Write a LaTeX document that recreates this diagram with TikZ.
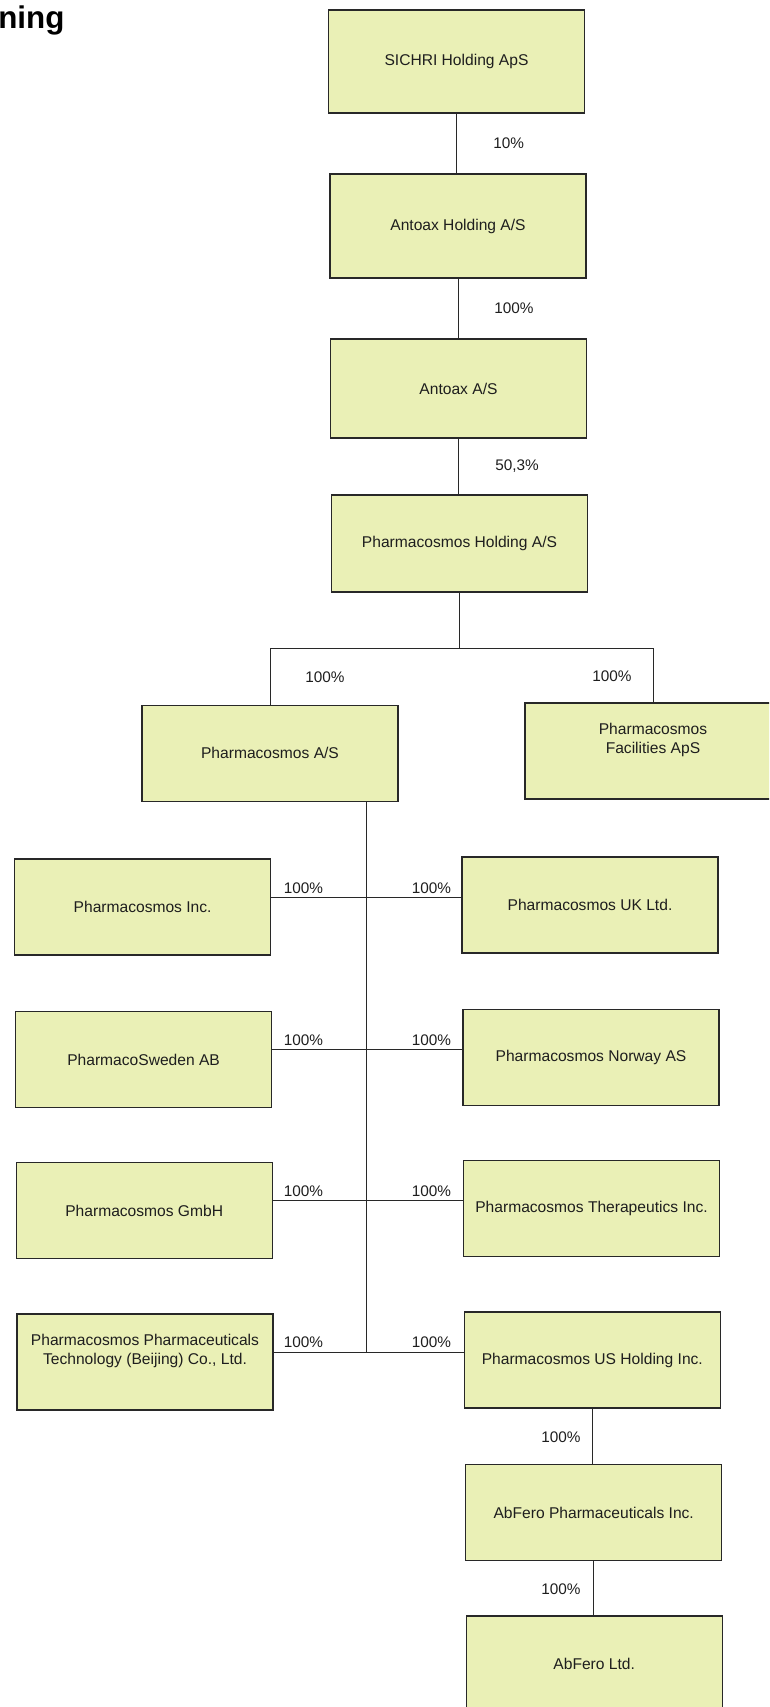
\documentclass[tikz,border=0pt]{standalone}
\usepackage{fontspec}
\setmainfont{Liberation Sans}
\definecolor{boxfill}{RGB}{234,240,182}
\definecolor{edge}{RGB}{40,40,40}
\definecolor{ink}{RGB}{30,30,30}
\begin{document}
\begin{tikzpicture}[x=0.75pt,y=-0.75pt,
  orgbox/.style={draw=edge, fill=boxfill, line width=0.9pt, minimum width=192pt, minimum height=72pt, inner sep=0pt, align=center, text=ink, font=\fontsize{11.7pt}{14.25pt}\selectfont},
  pct/.style={anchor=west, inner sep=0pt, text=ink, font=\fontsize{11.5pt}{14pt}\selectfont},
  link/.style={draw=edge, line width=0.7pt}]
\useasboundingbox (0,0) rectangle (769,1707);
\fill[white] (0,0) rectangle (769,1707);
\clip (0,0) rectangle (769,1707);

\node[anchor=base west, inner sep=0pt, font=\fontsize{23.5pt}{28pt}\selectfont\bfseries, text=black] (title) at (-2,28.5) {ning};

% boxes
\node[orgbox, minimum height=77.25pt] (sichri) at (456.5,61.5) {SICHRI Holding ApS};
\node[orgbox, minimum height=78pt] (antoaxh) at (458,226) {Antoax Holding A/S};
\node[orgbox, minimum height=74.25pt] (antoax) at (458.5,388.5) {Antoax A/S};
\node[orgbox, minimum height=72.75pt] (pholding) at (459.5,543.5) {Pharmacosmos Holding A/S};
\node[orgbox] (pas) at (270,753.3) {Pharmacosmos A/S};
\node[orgbox] (facilities) at (653,751) {Pharmacosmos\\Facilities ApS\\\strut};
\node[orgbox] (pinc) at (142.6,907) {Pharmacosmos Inc.};
\node[orgbox] (puk) at (590,905) {Pharmacosmos UK Ltd.};
\node[orgbox] (sweden) at (143.6,1059.5) {PharmacoSweden AB};
\node[orgbox] (norway) at (591,1057.5) {Pharmacosmos Norway AS};
\node[orgbox] (gmbh) at (144.2,1210.5) {Pharmacosmos GmbH};
\node[orgbox] (thera) at (591.5,1208.5) {Pharmacosmos Therapeutics Inc.};
\node[orgbox] (beijing) at (145,1362) {Pharmacosmos Pharmaceuticals\\Technology (Beijing) Co., Ltd.\\\strut};
\node[orgbox] (usholding) at (592.3,1360) {Pharmacosmos US Holding Inc.};
\node[orgbox] (abferopharm) at (593.7,1512.5) {AbFero Pharmaceuticals Inc.};
\node[orgbox] (abferoltd) at (594.2,1664) {AbFero Ltd.};

% junctions
\coordinate (fork) at (461,648);
\coordinate (j1) at (366,897);
\coordinate (j2) at (366,1049);
\coordinate (j3) at (366,1200);
\coordinate (j4) at (366,1352);

% connectors
\draw[link] (sichri.south) -- (sichri.south |- antoaxh.north);
\draw[link] (antoaxh.south) -- (antoaxh.south |- antoax.north);
\draw[link] (antoax.south) -- (antoax.south |- pholding.north);
\draw[link] (pholding.south) -- (pholding.south |- fork);
\draw[link] (pas.north) -- (pas.north |- fork) -- (facilities.north |- fork) -- (facilities.north);
\draw[link] (pas.south -| j4) -- (j4);
\draw[link] (pinc.east |- j1) -- (puk.west |- j1);
\draw[link] (sweden.east |- j2) -- (norway.west |- j2);
\draw[link] (gmbh.east |- j3) -- (thera.west |- j3);
\draw[link] (beijing.east |- j4) -- (usholding.west |- j4);
\draw[link] (usholding.south) -- (usholding.south |- abferopharm.north);
\draw[link] (abferopharm.south) -- (abferopharm.south |- abferoltd.north);

% labels
\node[pct] (p1) at (493,143) {10\%};
\node[pct] (p2) at (494,308) {100\%};
\node[pct] (p3) at (495,466) {50,3\%};
\node[pct] (p4) at (305,677) {100\%};
\node[pct] (p5) at (592,676) {100\%};
\node[pct] (p6) at (283.5,888) {100\%};
\node[pct] (p7) at (411.5,888) {100\%};
\node[pct] (p8) at (283.5,1040) {100\%};
\node[pct] (p9) at (411.5,1040) {100\%};
\node[pct] (p10) at (283.5,1191) {100\%};
\node[pct] (p11) at (411.5,1191) {100\%};
\node[pct] (p12) at (283.5,1342) {100\%};
\node[pct] (p13) at (411.5,1342) {100\%};
\node[pct] (p14) at (541,1437) {100\%};
\node[pct] (p15) at (541,1589) {100\%};
\end{tikzpicture}
\end{document}
